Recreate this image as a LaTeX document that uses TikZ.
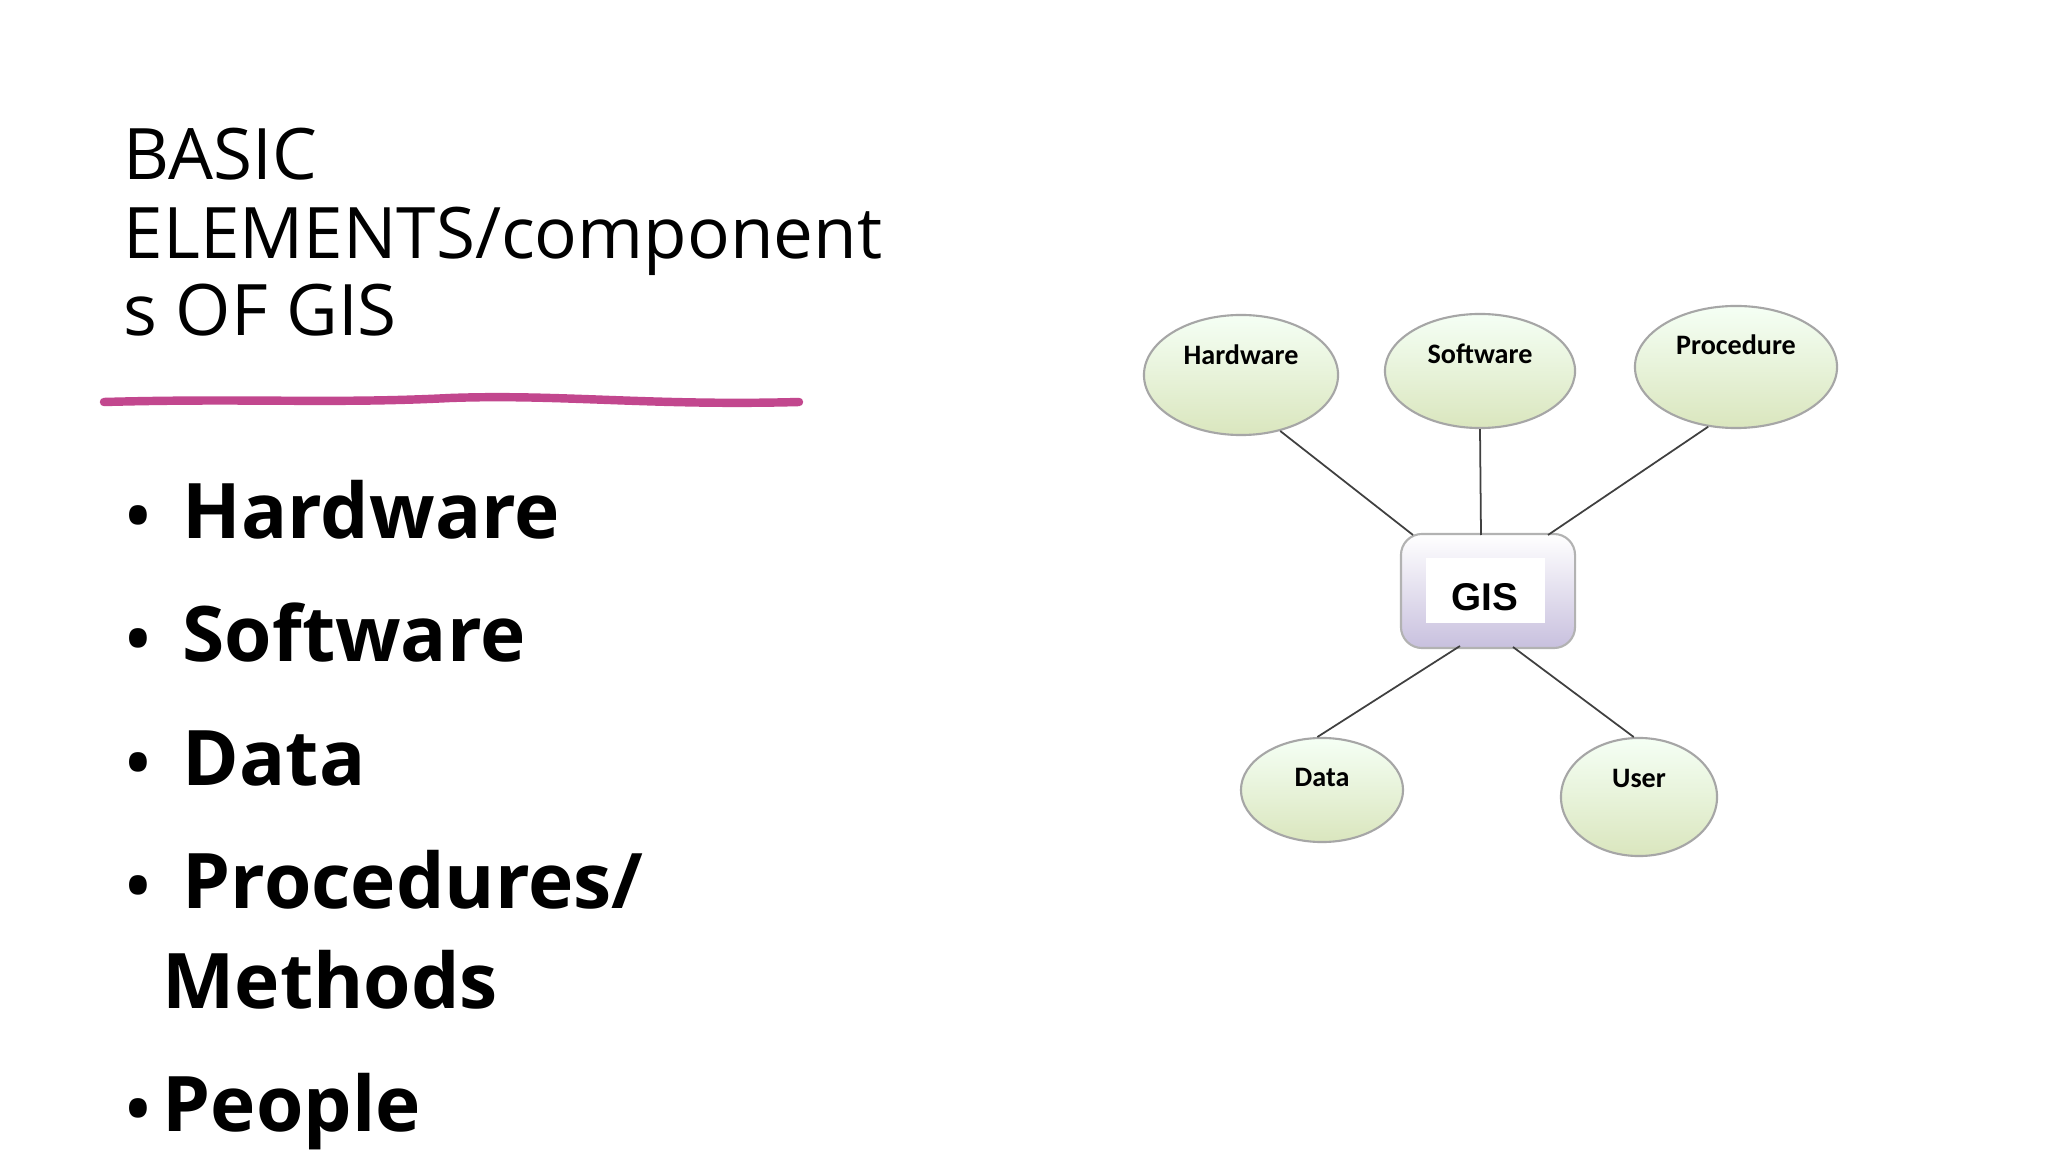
\documentclass[tikz,border=0pt]{standalone}
\usepackage{fontspec}
\setmainfont{Open Sans}
\newfontfamily\diafont{Carlito}
\newfontfamily\gisfont{Liberation Sans}
\usetikzlibrary{shapes.geometric}
\definecolor{pinkline}{HTML}{C2478E}
\tikzset{
  title/.style={anchor=base west,inner sep=0,font=\fontsize{20.2}{22}\selectfont},
  item/.style={anchor=base west,inner sep=0,font=\fontsize{21.8}{24}\selectfont\bfseries},
  bul/.style={anchor=base west,inner sep=0,font=\fontsize{18}{24}\selectfont\bfseries},
  elli/.style={ellipse,draw=black!35,line width=0.6pt,top color=green!4!white,bottom color={rgb,255:red,218;green,230;blue,190},inner sep=0},
  lbl/.style={inner sep=0,font=\diafont\fontsize{8}{9}\selectfont\bfseries},
  conn/.style={draw=black!75,line width=0.5pt}
}
\begin{document}
\begin{tikzpicture}[x=0.01cm,y=-0.01cm]
\useasboundingbox (0,0) rectangle (2048,1152);
\fill[white] (0,0) rectangle (2048,1152);
% title
\node[title] (t1) at (123,180) {BASIC};
\node[title] (t2) at (123,259) {ELEMENTS/component};
\node[title] (t3) at (123,336) {s OF GIS};
\draw[pinkline,line width=2.4pt,line cap=round] (104,402) .. controls (250,398) and (330,404) .. (450,398) .. controls (560,394) and (650,406) .. (799,402);
% bullets
\node[item] (b1) at (182,539) {Hardware};
\node[item] (b2) at (182,662) {Software};
\node[item] (b3) at (182,785) {Data};
\node[item] (b4) at (182,908) {Procedures/};
\node[item] (b5) at (162,1008) {Methods};
\node[item] (b6) at (162,1131) {People};
\foreach \y in {539,662,785,908,1131}{
  \node[bul] at (126,\y) {\textbullet};
}
% diagram
\node[elli,minimum width=1.94cm,minimum height=1.20cm] (hw) at (1241,375) {};
\node[elli,minimum width=1.90cm,minimum height=1.14cm] (sw) at (1480,371) {};
\node[elli,minimum width=2.02cm,minimum height=1.22cm] (pr) at (1736,367) {};
\node[elli,minimum width=1.62cm,minimum height=1.04cm] (da) at (1322,790) {};
\node[elli,minimum width=1.56cm,minimum height=1.18cm] (us) at (1639,797) {};
\node[lbl] at (1241,355) {Hardware};
\node[lbl] at (1480,354) {Software};
\node[lbl] at (1736,345) {Procedure};
\node[lbl] at (1322,777) {Data};
\node[lbl] at (1639,778) {User};
\node[draw=black!30,line width=0.6pt,rounded corners=6,minimum width=1.74cm,minimum height=1.14cm,inner sep=0,top color=white,bottom color={rgb,255:red,200;green,192;blue,222}] (gis) at (1488,591) {};
\fill[white] (1426,558) rectangle (1545,623);
\node[inner sep=0,font=\gisfont\fontsize{11}{12}\selectfont\bfseries] at (1485,597) {GIS};
\coordinate (g1) at (1413,535);
\coordinate (g2) at (1481,535);
\coordinate (g3) at (1548,535);
\coordinate (g4) at (1460,646);
\coordinate (g5) at (1513,647);
\draw[conn] (hw.-55) -- (g1);
\draw[conn] (sw.south) -- (g2);
\draw[conn] (pr.-115) -- (g3);
\draw[conn] (da.95) -- (g4);
\draw[conn] (us.95) -- (g5);
\end{tikzpicture}
\end{document}
